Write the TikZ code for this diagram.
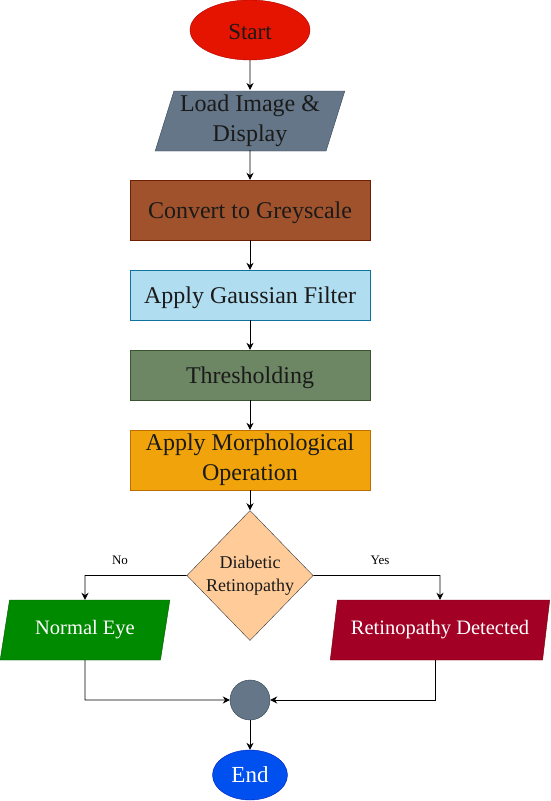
\documentclass[tikz,border=0pt]{standalone}
\usepackage{fontspec}
\setmainfont{Liberation Serif}
\usetikzlibrary{shapes.geometric,arrows.meta}
\definecolor{startc}{HTML}{E51400}\definecolor{startd}{HTML}{B20000}
\definecolor{greyc}{HTML}{647687}\definecolor{greyd}{HTML}{314354}
\definecolor{brownc}{HTML}{A0522D}\definecolor{brownd}{HTML}{6D1F00}
\definecolor{bluec}{HTML}{B1DDF0}\definecolor{blued}{HTML}{10739E}
\definecolor{oliveC}{HTML}{6D8764}\definecolor{oliveD}{HTML}{3A5431}
\definecolor{orangec}{HTML}{F0A30A}\definecolor{oranged}{HTML}{BD7000}
\definecolor{peachc}{HTML}{FFCC99}\definecolor{peachd}{HTML}{36393D}
\definecolor{greenc}{HTML}{008A00}\definecolor{greend}{HTML}{005700}
\definecolor{redc}{HTML}{A20025}\definecolor{redd}{HTML}{6F0000}
\definecolor{endc}{HTML}{0050EF}\definecolor{endd}{HTML}{001DBC}
\definecolor{txt}{HTML}{1A1A1A}
\tikzset{
  boxst/.style={draw,rectangle,minimum width=240pt,align=center,text=txt,font=\fontsize{24}{30}\selectfont,inner sep=0pt},
  oneline/.style={text height=22pt,text depth=5pt},
  para/.style={draw,trapezium,trapezium left angle=71.6,trapezium right angle=108.4,align=center,inner sep=0pt,trapezium stretches=true},
  conn/.style={draw=black,line width=0.8pt,-{Stealth[length=7pt,width=7pt]}},
  lbl/.style={font=\fontsize{13}{15}\selectfont,text=black}
}
\begin{document}
\begin{tikzpicture}[x=1pt,y=-1pt]
\useasboundingbox (0,0) rectangle (551,801);
\node[ellipse,draw=startd,fill=startc,minimum width=120pt,minimum height=60pt,inner sep=0pt,text=txt,font=\fontsize{23}{26}\selectfont,text height=19pt,text depth=0pt] (start) at (250,30) {Start};
\node[para,draw=greyd,fill=greyc,minimum width=190pt,minimum height=60pt,text=txt,font=\fontsize{24}{30}\selectfont] (load) at (250,121) {Load Image \&\\Display};
\node[boxst,oneline,draw=brownd,fill=brownc,minimum height=60pt] (conv) at (250,210) {Convert to Greyscale};
\node[boxst,oneline,draw=blued,fill=bluec,minimum height=50pt] (gauss) at (250,295) {Apply Gaussian Filter};
\node[boxst,oneline,draw=oliveD,fill=oliveC,minimum height=50pt] (thr) at (250,375) {Thresholding};
\node[boxst,draw=oranged,fill=orangec,minimum height=60pt] (morph) at (250,460) {Apply Morphological\\Operation};
\node[diamond,draw=peachd,fill=peachc,minimum width=125pt,minimum height=129pt,inner sep=0pt,aspect=0.97,align=center,text=txt,font=\fontsize{18}{23}\selectfont] (dia) at (250,575.5) {Diabetic\\Retinopathy};
\node[para,draw=greend,fill=greenc,minimum width=170pt,minimum height=60pt,text=white,font=\fontsize{20.5}{23}\selectfont] (normal) at (85,630) {Normal Eye};
\node[para,draw=redd,fill=redc,minimum width=220pt,minimum height=60pt,text=white,font=\fontsize{20.5}{23}\selectfont] (ret) at (440,630) {Retinopathy Detected};
\node[circle,draw=greyd,fill=greyc,minimum size=40pt,inner sep=0pt] (join) at (250,700) {};
\node[ellipse,draw=endd,fill=endc,minimum width=75pt,minimum height=50pt,inner sep=0pt,text=white,font=\fontsize{23}{26}\selectfont] (end) at (250,775) {End};
\coordinate (nl) at (85,575.5);
\coordinate (yr) at (440,575.5);
\coordinate (nb) at (85,700);
\coordinate (rb) at (435,700);
\draw[conn] (start) -- (load.north |- 0,90);
\draw[conn] (load.south |- 0,150) -- (conv);
\draw[conn] (conv) -- (gauss);
\draw[conn] (gauss) -- (thr);
\draw[conn] (thr) -- (morph);
\draw[conn] (morph) -- (dia);
\draw[conn] (dia.west) -- (nl) -- (normal.north);
\draw[conn] (dia.east) -- (yr) -- (ret.north);
\draw[conn] (normal.south) -- (nb) -- (join.west);
\draw[conn] (ret.south -| rb) -- (rb) -- (join.east);
\draw[conn] (join) -- (end);
\node[lbl] (no) at (120,560) {No};
\node[lbl] (yes) at (380,560) {Yes};
\end{tikzpicture}
\end{document}
